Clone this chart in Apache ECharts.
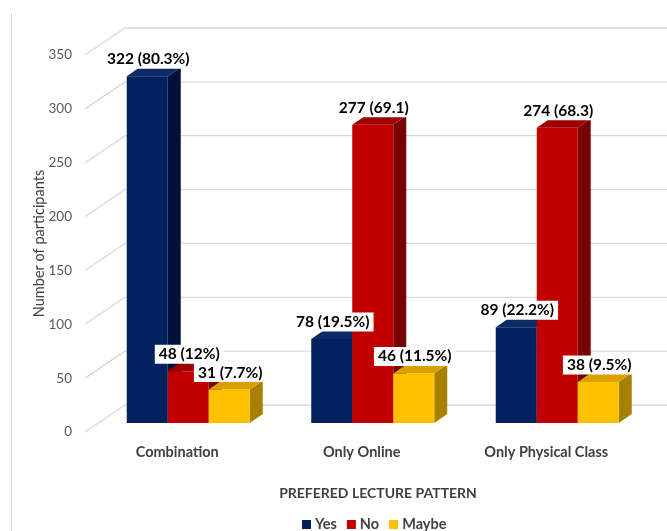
<!DOCTYPE html>
<html>
<head>
<meta charset="utf-8">
<style>
  html, body { margin: 0; padding: 0; background: #ffffff; }
  #chart { width: 667px; height: 531px; }
</style>
<script src="https://cdn.jsdelivr.net/npm/echarts@6/dist/echarts.min.js"></script>
</head>
<body>
<div id="chart"></div>
<script>
// Preferred lecture pattern survey: counts per answer
const categories = ['Combination', 'Only Online', 'Only Physical Class'];
const seriesNames = ['Yes', 'No', 'Maybe'];
const yesValues = [322, 78, 89];
const noValues = [48, 277, 274];
const maybeValues = [31, 46, 38];
const yesPct = ['80.3%', '19.5%', '22.2%'];
const noPct = ['12%', '69.1', '68.3'];
const maybePct = ['7.7%', '11.5%', '9.5%'];
const yTicks = [0, 50, 100, 150, 200, 250, 300, 350];

// Face colours: front, side, top
const palette = [
  { front: '#002060', side: '#001238', top: '#0c2a66' },
  { front: '#c00000', side: '#780000', top: '#a00000' },
  { front: '#ffc000', side: '#a88000', top: '#d9a000' }
];

const FONT = 'Lato, "Open Sans", sans-serif';

// Pseudo-3D geometry (pixels)
const WALL_DX = 40, WALL_DY = -27;   // depth of the floor/side wall
const BAR_DX = 11, BAR_DY = -9;      // bar front plane behind the axis plane
const DEPTH_DX = 13, DEPTH_DY = -9;  // bar thickness
const BAR_FRAC = 41 / 184.5;         // one bar's share of a category band

const chart = echarts.init(document.getElementById('chart'), null, { renderer: 'canvas' });

function wallRender(params, api) {
  const v = api.value(0);
  const p = api.coord([0, v]);
  const band = api.size([1, 0])[0];
  const x0 = p[0] - band / 2;
  const y0 = p[1];
  const stroke = { stroke: '#d9d9d9', lineWidth: 1.3 };
  return {
    type: 'group',
    children: [
      { type: 'line', shape: { x1: x0, y1: y0, x2: x0 + WALL_DX, y2: y0 + WALL_DY }, style: stroke },
      { type: 'line', shape: { x1: x0 + WALL_DX, y1: y0 + WALL_DY, x2: api.getWidth(), y2: y0 + WALL_DY }, style: stroke }
    ]
  };
}

function makeBarRender(s, pcts) {
  const c = palette[s];
  return function (params, api) {
    const cat = api.value(0);
    const v = api.value(1);
    const topPt = api.coord([cat, v]);
    const basePt = api.coord([cat, 0]);
    const band = api.size([1, 0])[0];
    const bw = band * BAR_FRAC;
    const left = topPt[0] - 1.5 * bw + s * bw + BAR_DX;
    const right = left + bw;
    const yTop = topPt[1] + BAR_DY;
    const yBase = basePt[1] + BAR_DY;
    const label = v + ' (' + pcts[params.dataIndex] + ')';
    const zb = s * 3;
    return {
      type: 'group',
      children: [
        { type: 'polygon', z2: zb, shape: { points: [[right, yTop], [right + DEPTH_DX, yTop + DEPTH_DY], [right + DEPTH_DX, yBase + DEPTH_DY], [right, yBase]] }, style: { fill: c.side } },
        { type: 'polygon', z2: zb + 1, shape: { points: [[left, yTop], [left + DEPTH_DX, yTop + DEPTH_DY], [right + DEPTH_DX, yTop + DEPTH_DY], [right, yTop]] }, style: { fill: c.top } },
        { type: 'rect', z2: zb + 2, shape: { x: left, y: yTop, width: bw, height: yBase - yTop }, style: { fill: c.front } },
        {
          type: 'text', z2: 100 + s,
          x: (left + right) / 2 + 1, y: yTop - 17,
          style: {
            text: label, align: 'center', verticalAlign: 'middle',
            font: 'bold 15.5px ' + FONT, fill: '#000000',
            backgroundColor: '#ffffff', padding: [2, 4, 1, 4]
          }
        }
      ]
    };
  };
}

function barSeries(s, values, pcts) {
  return {
    name: seriesNames[s],
    type: 'custom',
    z: 3,
    itemStyle: { color: palette[s].front },
    data: values.map((v, i) => [i, v]),
    encode: { x: 0, y: 1 },
    renderItem: makeBarRender(s, pcts)
  };
}

const option = {
  animation: false,
  backgroundColor: '#ffffff',
  grid: { left: 85, right: 28.5, top: 55, bottom: 99, outerBoundsMode: 'none' },
  xAxis: {
    type: 'category',
    data: categories,
    axisLine: { show: false },
    axisTick: { show: false },
    axisLabel: { margin: 13, fontFamily: FONT, fontWeight: 'bold', fontSize: 14.5, color: '#404040' }
  },
  yAxis: {
    type: 'value',
    min: 0, max: 350, interval: 50,
    name: 'Number of participants',
    nameLocation: 'middle',
    nameGap: 38,
    nameMoveOverlap: false,
    nameTextStyle: { fontFamily: FONT, fontSize: 14.5, color: '#404040' },
    axisLine: { show: false },
    axisTick: { show: false },
    splitLine: { show: false },
    axisLabel: { margin: 13, fontFamily: FONT, fontSize: 13.5, color: '#595959' }
  },
  legend: {
    data: seriesNames,
    left: 297, top: 512,
    icon: 'rect', itemWidth: 9, itemHeight: 9, itemGap: 10,
    textStyle: { fontFamily: FONT, fontWeight: 'bold', fontSize: 14.5, color: '#404040', padding: [0, 0, 0, -1] }
  },
  graphic: [
    { type: 'line', shape: { x1: 11.5, y1: 13, x2: 11.5, y2: 531 }, style: { stroke: '#d9d9d9', lineWidth: 1 } },
    {
      type: 'text', x: 378, y: 493,
      style: { text: 'PREFERED LECTURE PATTERN', align: 'center', verticalAlign: 'middle', font: 'bold 14px ' + FONT, fill: '#404040' }
    }
  ],
  series: [
    {
      type: 'custom',
      name: 'wall',
      z: 1,
      silent: true,
      data: yTicks.map(v => [v]),
      encode: { y: 0 },
      renderItem: wallRender
    },
    barSeries(0, yesValues, yesPct),
    barSeries(1, noValues, noPct),
    barSeries(2, maybeValues, maybePct)
  ]
};

chart.setOption(option);
</script>
</body>
</html>
